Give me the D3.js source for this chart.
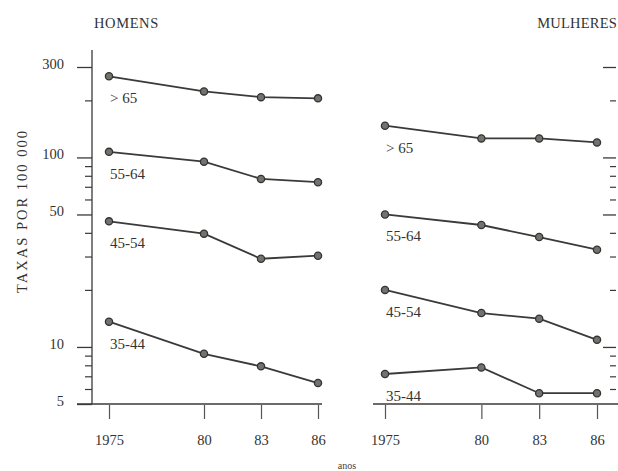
<!DOCTYPE html>
<html>
<head>
<meta charset="utf-8">
<script src="https://cdn.jsdelivr.net/npm/d3@7"></script>
<style>
  html, body { margin: 0; padding: 0; background: #fff; }
  svg { display: block; font-family: "Liberation Serif", "DejaVu Serif", serif; }
</style>
</head>
<body>
<svg id="chart" width="618" height="471"></svg>
<script>
// ---- data ----
const years = [1975, 1980, 1983, 1986];
const yearLabels = ["1975", "80", "83", "86"];
const ageGroups = ["> 65", "55-64", "45-54", "35-44"];
const homens = [
  [268, 223, 208, 205],
  [107, 95, 77, 74],
  [46, 39.6, 29.2, 30.3],
  [13.6, 9.2, 7.9, 6.45]
];
const mulheres = [
  [147, 126, 126, 120],
  [50, 44, 38, 32.6],
  [20, 15.1, 14.1, 10.9],
  [7.2, 7.8, 5.7, 5.7]
];
const majorTicks = [300, 100, 50, 10, 5];
const majorTickLabels = ["300", "100", "50", "10", "5"];
const minorTicks = [200, 90, 80, 70, 60, 40, 30, 20, 9, 8, 7, 6];
const panelTitles = ["HOMENS", "MULHERES"];
const yTitle = "TAXAS POR 100 000";
const xTitle = "anos";

// ---- layout ----
const svg = d3.select("#chart");
const ink = "#3a3a3a";
const serif = "Liberation Serif, serif";
const y = d3.scaleLog().domain([5, 300]).range([404, 67]);
const xL = d3.scaleLinear().domain([1975, 1986]).range([109, 318]);
const xR = d3.scaleLinear().domain([1975, 1986]).range([385, 597]);

// left y axis - major
const gMajor = svg.append("g").attr("transform", "translate(92,0)")
  .call(d3.axisLeft(y).tickValues(majorTicks)
    .tickFormat((d, i) => majorTickLabels[i]).tickSize(15).tickPadding(13));
gMajor.select(".domain").remove();
gMajor.selectAll("line").attr("stroke", ink).attr("stroke-width", 1.3);
gMajor.selectAll("text").attr("font-size", 14.5).attr("fill", "#333")
  .attr("font-family", serif).attr("dy", "0.1em");
// left y axis - minor
const gMinor = svg.append("g").attr("transform", "translate(92,0)")
  .call(d3.axisLeft(y).tickValues(minorTicks).tickFormat("").tickSize(7));
gMinor.select(".domain").remove();
gMinor.selectAll("line").attr("stroke", ink).attr("stroke-width", 1.2);
// left axis line
svg.append("line").attr("x1", 92).attr("x2", 92).attr("y1", 50).attr("y2", 404)
  .attr("stroke", ink).attr("stroke-width", 1.3);

// right y axis ticks (pointing inward, no labels)
const gRMajor = svg.append("g").attr("transform", "translate(616,0)")
  .call(d3.axisLeft(y).tickValues(majorTicks.slice(0, 4)).tickFormat("").tickSize(13));
gRMajor.select(".domain").remove();
gRMajor.selectAll("line").attr("stroke", ink).attr("stroke-width", 1.3);
const gRMinor = svg.append("g").attr("transform", "translate(616,0)")
  .call(d3.axisLeft(y).tickValues(minorTicks).tickFormat("").tickSize(6));
gRMinor.select(".domain").remove();
gRMinor.selectAll("line").attr("stroke", ink).attr("stroke-width", 1.2);

// x axes
function xAxis(x, x0, x1) {
  svg.append("line").attr("x1", x0).attr("x2", x1).attr("y1", 404).attr("y2", 404)
    .attr("stroke", ink).attr("stroke-width", 1.4);
  const g = svg.append("g").attr("transform", "translate(0,405)")
    .call(d3.axisBottom(x).tickValues(years)
      .tickFormat((d, i) => yearLabels[i]).tickSize(14).tickPadding(16));
  g.select(".domain").remove();
  g.selectAll("line").attr("stroke", "#555").attr("stroke-width", 1.2);
  g.selectAll("text").attr("font-size", 14.5).attr("fill", "#333")
    .attr("font-family", serif);
}
xAxis(xL, 77, 322);
xAxis(xR, 373, 618);

// series
function panel(x, data) {
  data.forEach((vals, si) => {
    const pts = years.map((yr, i) => [x(yr), y(vals[i])]);
    svg.append("path").attr("d", d3.line()(pts))
      .attr("fill", "none").attr("stroke", ink).attr("stroke-width", 1.8);
    svg.append("g").selectAll("circle").data(pts).join("circle")
      .attr("cx", d => d[0]).attr("cy", d => d[1]).attr("r", 3.6)
      .attr("fill", "#6f746c").attr("stroke", "#333").attr("stroke-width", 1.3);
    svg.append("text").attr("x", x(years[0]) + 1).attr("y", y(vals[0]) + 27)
      .attr("font-size", 15).attr("fill", "#333").attr("font-family", serif)
      .text(ageGroups[si]);
  });
}
panel(xL, homens);
panel(xR, mulheres);

// titles
svg.append("text").attr("x", 94).attr("y", 28).attr("font-size", 14.5)
  .attr("letter-spacing", 0.6).attr("fill", "#333").attr("font-family", serif)
  .text(panelTitles[0]);
svg.append("text").attr("x", 617).attr("y", 28).attr("text-anchor", "end")
  .attr("font-size", 14.5).attr("letter-spacing", 0.2).attr("fill", "#333")
  .attr("font-family", serif).text(panelTitles[1]);
svg.append("text").attr("transform", "translate(27,211) rotate(-90)")
  .attr("text-anchor", "middle").attr("font-size", 14.5).attr("letter-spacing", 2)
  .attr("fill", "#333").attr("font-family", serif).text(yTitle);
svg.append("text").attr("x", 347).attr("y", 469).attr("text-anchor", "middle")
  .attr("font-size", 10).attr("fill", "#444").attr("font-family", serif).text(xTitle);
</script>
</body>
</html>
